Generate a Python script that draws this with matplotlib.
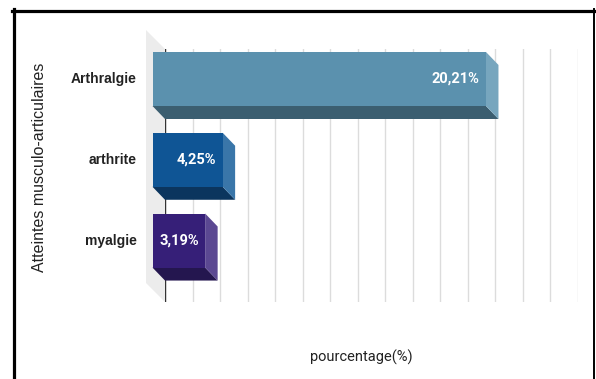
import numpy as np
import matplotlib
matplotlib.use("Agg")
import matplotlib.pyplot as plt
from matplotlib.patches import Polygon, Rectangle

# données : atteintes musculo-articulaires (%)
categories = ["Arthralgie", "arthrite", "myalgie"]
valeurs = [20.21, 4.25, 3.19]
etiquettes = ["20,21%", "4,25%", "3,19%"]

faces = ["#5b91ae", "#0f5595", "#361f78"]
dessous = ["#3b5e70", "#0b355e", "#24164f"]
cotes = ["#77a6be", "#3a76a9", "#5b4892"]

W, H = 596, 379
fig = plt.figure(figsize=(W / 100, H / 100), dpi=100)
ax = fig.add_axes([165 / W, 1 - 302 / H, 412.5 / W, 253 / H])
ax.set_xlim(0, 25)
ax.set_ylim(2.60, -0.532)
ax.set_xticks(np.linspace(0, 25, 16))
ax.set_yticks([])
ax.tick_params(length=0, labelbottom=False)
ax.grid(axis="x", color="#dcdcdc", lw=1, zorder=0)
for s in ax.spines.values():
    s.set_visible(False)

fig.canvas.draw()
DX, DY = 12.5, 13  # profondeur 3D en pixels
hauteur = 0.669


def decale(x, y, dx=-DX, dy=DY):
    p = ax.transData.transform((x, y)) + np.array([dx, dy])
    return tuple(ax.transData.inverted().transform(p))


# paroi grise à gauche
y0, y1 = ax.get_ylim()[1], ax.get_ylim()[0]
mur = [decale(0, y0, -19, 19), (0, y0), (0, y1), decale(0, y1, -19, 19)]
ax.add_patch(Polygon(mur, closed=True, fc="#ececec", ec="none", zorder=1, clip_on=False))
ax.axvline(0, color="#333333", lw=1, zorder=2)

for i, (cat, v, lab) in enumerate(zip(categories, valeurs, etiquettes)):
    haut, bas = i - hauteur / 2, i + hauteur / 2
    # face du dessous
    ax.add_patch(Polygon([decale(0, bas), decale(v, bas), (v, bas), (0, bas)],
                         closed=True, fc=dessous[i], ec="none", zorder=3, clip_on=False))
    # face de droite
    ax.add_patch(Polygon([decale(v, haut), (v, haut), (v, bas), decale(v, bas)],
                         closed=True, fc=cotes[i], ec="none", zorder=3, clip_on=False))
    # face avant
    x0, yh = decale(0, haut)
    x1, yb = decale(v, bas)
    ax.add_patch(Rectangle((x0, yh), x1 - x0, yb - yh, fc=faces[i], ec="none",
                           zorder=4, clip_on=False))
    ax.annotate(lab, xy=(v, i), xytext=(-DX - 6.5, DY), textcoords="offset pixels",
                ha="right", va="center", color="white", fontsize=10.5,
                fontweight="bold", family="Roboto", zorder=5)
    ax.annotate(cat, xy=(0, i), xytext=(-28, DY), textcoords="offset pixels",
                ha="right", va="center", color="#222222", fontsize=10,
                fontweight="bold", family="Liberation Sans", annotation_clip=False)

fig.text(40 / W, 1 - 167 / H, "Atteintes musculo-articulaires", rotation=90,
         ha="center", va="center", fontsize=11.5, family="Liberation Sans", color="#222222")
fig.text(361 / W, 1 - 357 / H, "pourcentage(%)", ha="center", va="center",
         fontsize=10.5, family="Roboto", color="#222222")

# cadre noir
fig.add_artist(plt.Line2D([12 / W, 595 / W], [1 - 10.5 / H] * 2, color="black", lw=2.3,
                          transform=fig.transFigure))
fig.add_artist(plt.Line2D([13.5 / W] * 2, [0, 1 - 9 / H], color="black", lw=2.3,
                          transform=fig.transFigure))
fig.add_artist(plt.Line2D([594.3 / W] * 2, [0, 1 - 9 / H], color="black", lw=1.4,
                          transform=fig.transFigure))

fig.savefig("out.png", dpi=100)
